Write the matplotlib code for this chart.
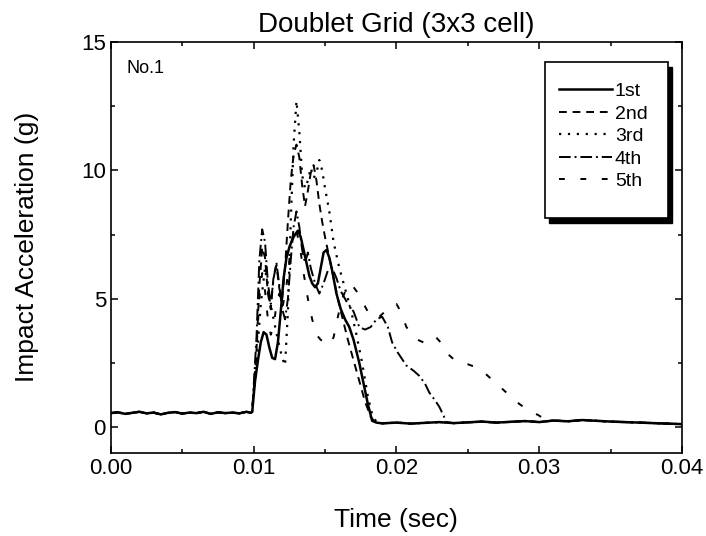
import matplotlib
matplotlib.use('Agg')
import matplotlib.pyplot as plt
from matplotlib.patches import Rectangle

plt.rcParams['font.family'] = ['Liberation Sans', 'DejaVu Sans']

# 衝撃前のベースライン (全試験共通)
pre_t = [0.0, 0.0005, 0.001, 0.0015, 0.002, 0.0025, 0.003, 0.0035, 0.004, 0.0045,
         0.005, 0.0055, 0.006, 0.0065, 0.007, 0.0075, 0.008, 0.0085, 0.009, 0.0095, 0.0098]
pre_v = [0.55, 0.58, 0.52, 0.56, 0.6, 0.54, 0.57, 0.5, 0.56, 0.59,
         0.53, 0.57, 0.55, 0.6, 0.52, 0.58, 0.55, 0.57, 0.54, 0.6, 0.56]

# 衝撃後のベースライン
post_t = [0.019, 0.020, 0.021, 0.022, 0.023, 0.024, 0.025, 0.026, 0.027, 0.028, 0.029,
          0.030, 0.031, 0.032, 0.033, 0.034, 0.035, 0.036, 0.037, 0.038, 0.039, 0.040]
post_v = [0.15, 0.18, 0.14, 0.17, 0.2, 0.16, 0.19, 0.22, 0.18, 0.21, 0.24,
          0.2, 0.26, 0.23, 0.28, 0.25, 0.22, 0.2, 0.18, 0.16, 0.14, 0.12]

t1 = [0.0099, 0.0101, 0.0103, 0.0105, 0.0107, 0.0109, 0.0111, 0.0113, 0.0115, 0.0117,
      0.0119, 0.0121, 0.0123, 0.0125, 0.0127, 0.0129, 0.0131, 0.0133, 0.0135, 0.0137,
      0.0139, 0.0141, 0.0143, 0.0145, 0.0147, 0.0149, 0.0151, 0.0153, 0.0155, 0.0158,
      0.0161, 0.0164, 0.0167, 0.0170, 0.0174, 0.0177, 0.0180, 0.0183, 0.0186]
v1 = [0.6, 1.8, 2.6, 3.3, 3.7, 3.6, 3.1, 2.7, 2.65, 3.3,
      4.5, 5.8, 6.6, 7.0, 7.3, 7.5, 7.65, 7.4, 6.9, 6.4,
      5.9, 5.6, 5.45, 5.6, 6.2, 6.8, 6.9, 6.6, 6.1, 5.2,
      4.6, 4.2, 3.9, 3.4, 2.5, 1.7, 0.9, 0.25, 0.18]

t2 = [0.0099, 0.0102, 0.0104, 0.0106, 0.0108, 0.0110, 0.0112, 0.0114, 0.0116, 0.0118,
      0.0120, 0.0122, 0.0124, 0.0126, 0.0128, 0.0130, 0.0132, 0.0134, 0.0136, 0.0138,
      0.0140, 0.0142, 0.0144, 0.0146, 0.0148, 0.0150, 0.0153, 0.0156, 0.0159, 0.0162,
      0.0166, 0.0170, 0.0174, 0.0178, 0.0182, 0.0185]
v2 = [0.6, 3.0, 5.5, 7.0, 6.6, 5.2, 4.6, 5.9, 6.3, 5.4,
      5.0, 6.2, 8.0, 9.6, 10.6, 11.0, 10.5, 9.4, 8.6, 9.2,
      9.9, 10.2, 9.6, 8.7, 8.0, 7.4, 6.6, 5.8, 5.0, 4.3,
      3.4, 2.6, 1.8, 1.0, 0.4, 0.2]

t3 = [0.0099, 0.0102, 0.0105, 0.0108, 0.0111, 0.0114, 0.0117, 0.0120, 0.0122, 0.0124,
      0.0126, 0.0128, 0.0130, 0.0132, 0.0134, 0.0136, 0.0138, 0.0140, 0.0142, 0.0144,
      0.0146, 0.0148, 0.0150, 0.0153, 0.0156, 0.0160, 0.0164, 0.0168, 0.0172, 0.0176,
      0.0180, 0.0183, 0.0186]
v3 = [0.6, 2.5, 4.8, 6.2, 5.0, 4.2, 3.4, 2.7, 2.4, 4.5,
      8.0, 11.0, 12.7, 11.5, 9.8, 9.3, 9.6, 10.1, 9.7, 9.9,
      10.4, 10.0, 9.3, 8.4, 7.2, 6.2, 5.4, 4.6, 3.6, 2.5,
      1.2, 0.5, 0.2]

t4 = [0.0099, 0.0102, 0.0104, 0.0106, 0.0108, 0.0110, 0.0112, 0.0114, 0.0116, 0.0118,
      0.0120, 0.0122, 0.0124, 0.0126, 0.0128, 0.0130, 0.0132, 0.0134, 0.0136, 0.0138,
      0.0140, 0.0143, 0.0146, 0.0149, 0.0152, 0.0155, 0.0158, 0.0161, 0.0165, 0.0170,
      0.0174, 0.0178, 0.0182, 0.0186, 0.0190, 0.0194, 0.0197, 0.0201, 0.0207, 0.0212,
      0.0216, 0.0220, 0.0223, 0.0227, 0.0230, 0.0233, 0.0235]
v4 = [0.6, 3.5, 6.5, 7.7, 7.2, 5.6, 4.8, 5.8, 6.4, 5.5,
      4.6, 4.2, 5.0, 6.5, 7.8, 8.4, 7.8, 6.9, 6.4, 6.8,
      6.2, 5.6, 5.2, 5.6, 6.1, 6.2, 5.8, 5.3, 4.9, 4.5,
      3.9, 3.8, 3.9, 4.2, 4.3, 3.9, 3.3, 2.9, 2.4, 2.2,
      2.0, 1.7, 1.35, 1.05, 0.8, 0.45, 0.2]

t5 = [0.0099, 0.0102, 0.0104, 0.0106, 0.0108, 0.0110, 0.0112, 0.0114, 0.0116, 0.0118,
      0.0120, 0.0123, 0.0126, 0.0129, 0.0132, 0.0135, 0.0138, 0.0141, 0.0144, 0.0147,
      0.0150, 0.0153, 0.0156, 0.0159, 0.0162, 0.0165, 0.0168, 0.0172, 0.0176, 0.0180,
      0.0184, 0.0188, 0.0192, 0.0196, 0.0200, 0.0203, 0.0207, 0.0211, 0.0215, 0.0219,
      0.0223, 0.0227, 0.0231, 0.0235, 0.0240, 0.0245, 0.0250, 0.0255, 0.0260, 0.0265,
      0.0270, 0.0275, 0.0280, 0.0285, 0.0290, 0.0295, 0.0300, 0.0304]
v5 = [0.6, 3.0, 5.0, 6.0, 5.3, 4.2, 3.6, 3.9, 4.8, 5.2,
      4.6, 5.5, 7.0, 7.8, 7.2, 6.0, 5.0, 4.2, 3.6, 3.4,
      3.3, 3.2, 3.5, 4.3, 5.0, 5.4, 5.6, 5.3, 4.9, 4.5,
      4.25, 4.3, 4.5, 4.7, 4.8, 4.5, 3.9, 3.6, 3.4, 3.3,
      3.4, 3.55, 3.3, 2.9, 2.65, 2.5, 2.45, 2.35, 2.2, 1.95,
      1.7, 1.45, 1.2, 0.95, 0.75, 0.6, 0.45, 0.3]

labels = ['1st', '2nd', '3rd', '4th', '5th']
all_t = [t1, t2, t3, t4, t5]
all_v = [v1, v2, v3, v4, v5]
styles = ['-', (0, (4, 3)), (0, (1, 3)), (0, (6, 2, 1, 2)), (0, (3, 8))]
widths = [1.8, 1.4, 1.6, 1.4, 1.4]

fig = plt.figure(figsize=(7.06, 5.36), dpi=100)
ax = fig.add_axes([0.157, 0.155, 0.809, 0.767])

for t, v, lab, ls, lw in zip(all_t, all_v, labels, styles, widths):
    tail_t = [p for p in post_t if p > t[-1]]
    tail_v = [q for p, q in zip(post_t, post_v) if p > t[-1]]
    ax.plot(pre_t + t + tail_t, pre_v + v + tail_v, color='black',
            linestyle=ls, linewidth=lw, label=lab)

ax.set_xlim(0, 0.04)
ax.set_ylim(-1, 15)
ax.set_xticks([0, 0.01, 0.02, 0.03, 0.04])
ax.set_xticklabels(['0.00', '0.01', '0.02', '0.03', '0.04'])
ax.set_xticks([0.005, 0.015, 0.025, 0.035], minor=True)
ax.set_yticks([0, 5, 10, 15])
ax.set_yticks([2.5, 7.5, 12.5], minor=True)
ax.tick_params(which='both', direction='in', top=True, right=True, labelsize=16, width=1.1)
ax.tick_params(which='major', length=5)
ax.tick_params(which='minor', length=3)
for s in ax.spines.values():
    s.set_linewidth(1.2)

ax.set_title('Doublet Grid (3x3 cell)', fontsize=20, pad=7)
ax.set_xlabel('Time (sec)', fontsize=19, labelpad=21)
ax.set_ylabel('Impact Acceleration (g)', fontsize=19, labelpad=30)
ax.text(0.028, 0.935, 'No.1', fontsize=13, transform=ax.transAxes, va='center')

# 凡例 (影付きの枠は手で描く)
ax.add_patch(Rectangle((0.7679, 0.5586), 0.215, 0.379, transform=ax.transAxes,
                       facecolor='black', edgecolor='black', zorder=3.9))
ax.add_patch(Rectangle((0.760, 0.572), 0.215, 0.379, transform=ax.transAxes,
                       facecolor='white', edgecolor='black', linewidth=1.2, zorder=4))
ax.legend(loc='center', bbox_to_anchor=(0.8625, 0.770), frameon=False, fontsize=14,
          handlelength=2.7, handletextpad=0.15, labelspacing=0.25)

fig.savefig('out.png', dpi=100)
